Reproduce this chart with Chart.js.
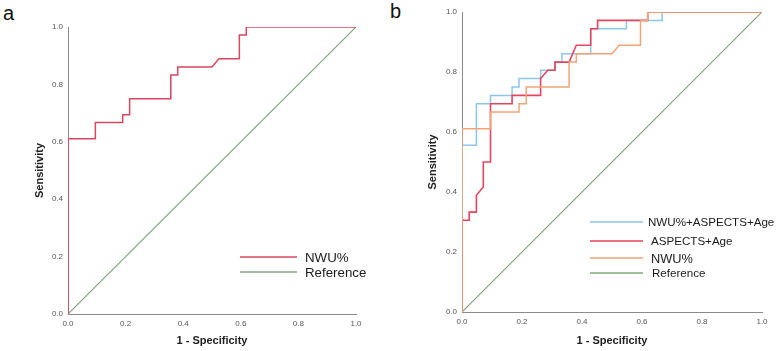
<!DOCTYPE html>
<html>
<head>
<meta charset="utf-8">
<script src="https://cdn.jsdelivr.net/npm/chart.js@4/dist/chart.umd.min.js"></script>
<style>
  html, body { margin: 0; padding: 0; background: #fff; }
  body { width: 776px; height: 351px; position: relative; overflow: hidden; font-family: "Liberation Sans", Arial, sans-serif; }
  .wrap { position: absolute; top: 0; width: 388px; height: 351px; }
  .lbl { position: absolute; font-size: 20px; color: #111; line-height: 1; }
</style>
</head>
<body>
<div class="lbl" style="left:3px; top:3px;">a</div>
<div class="lbl" style="left:390px; top:1px;">b</div>
<div class="wrap" style="left:0px;"><canvas id="cA" width="388" height="351"></canvas></div>
<div class="wrap" style="left:388px;"><canvas id="cB" width="388" height="351"></canvas></div>
<script>
// ---- data ----
const tickValues = [0, 0.2, 0.4, 0.6, 0.8, 1.0];
const xTitle = "1 - Specificity";
const yTitle = "Sensitivity";

// NWU% ROC curve (1 - specificity, sensitivity)
const nwuFpr = [0,0,0.095,0.095,0.19,0.19,0.214,0.214,0.357,0.357,0.381,0.381,0.5,0.524,0.595,0.595,0.619,0.619,1];
const nwuTpr = [0,0.611,0.611,0.667,0.667,0.694,0.694,0.75,0.75,0.833,0.833,0.861,0.861,0.889,0.889,0.972,0.972,1,1];

// NWU%+ASPECTS+Age ROC curve
const comboFpr = [0,0,0.048,0.048,0.095,0.095,0.167,0.167,0.19,0.19,0.262,0.262,0.31,0.31,0.333,0.333,0.429,0.429,0.548,0.548,0.667,0.667,1];
const comboTpr = [0,0.556,0.556,0.694,0.694,0.722,0.722,0.75,0.75,0.778,0.778,0.806,0.806,0.833,0.833,0.861,0.861,0.944,0.944,0.972,0.972,1,1];

// ASPECTS+Age ROC curve
const aspFpr = [0,0,0.024,0.024,0.048,0.048,0.071,0.071,0.095,0.095,0.167,0.167,0.262,0.262,0.286,0.31,0.31,0.357,0.381,0.429,0.429,0.452,0.452,0.619,0.619,1];
const aspTpr = [0,0.306,0.306,0.333,0.333,0.389,0.417,0.5,0.5,0.694,0.694,0.722,0.722,0.778,0.806,0.806,0.833,0.833,0.889,0.889,0.944,0.944,0.972,0.972,1,1];

// Reference diagonal
const refX = [0, 1];
const refY = [0, 1];

const labelsA = ["NWU%", "Reference"];
const labelsB = ["NWU%+ASPECTS+Age", "ASPECTS+Age", "NWU%", "Reference"];

// ---- helpers ----
function pts(xs, ys) { return xs.map((x, i) => ({ x: x, y: ys[i] })); }

function ds(label, xs, ys, color, width, order) {
  return {
    label: label,
    data: pts(xs, ys),
    borderColor: color,
    backgroundColor: color,
    borderWidth: width,
    showLine: true,
    pointRadius: 0,
    pointHoverRadius: 0,
    tension: 0,
    fill: false,
    order: order
  };
}

const legendPlugin = {
  id: 'customLegend',
  afterDraw(chart, args, opts) {
    const ctx = chart.ctx;
    ctx.save();
    opts.items.forEach((it) => {
      const d = chart.data.datasets[it.index];
      ctx.strokeStyle = d.borderColor;
      ctx.lineWidth = 1.5;
      ctx.beginPath();
      ctx.moveTo(opts.x1, it.y);
      ctx.lineTo(opts.x2, it.y);
      ctx.stroke();
      ctx.fillStyle = '#1a1a1a';
      ctx.font = it.size + 'px "Liberation Sans", Arial, sans-serif';
      ctx.textBaseline = 'middle';
      ctx.textAlign = 'left';
      ctx.fillText(d.label, it.tx, it.y + 1);
    });
    ctx.restore();
  }
};

function scales(yWidth, xHeight) {
  const tickFont = { family: '"Liberation Sans", Arial, sans-serif', size: 8 };
  const titleFont = { family: '"Liberation Sans", Arial, sans-serif', size: 11, weight: 'bold' };
  return {
    x: {
      type: 'linear', min: 0, max: 1,
      afterBuildTicks: (s) => { s.ticks = tickValues.map(v => ({ value: v })); },
      afterFit: (s) => { s.height = xHeight; },
      grid: { display: false, drawTicks: false },
      border: { display: true, color: '#8a8a8a', width: 1 },
      ticks: { font: tickFont, color: '#555', padding: 5, callback: (v) => Number(v).toFixed(1), maxRotation: 0 },
      title: { display: true, text: xTitle, font: titleFont, color: '#222', padding: { top: 0, bottom: 3 } }
    },
    y: {
      type: 'linear', min: 0, max: 1,
      afterBuildTicks: (s) => { s.ticks = tickValues.map(v => ({ value: v })); },
      afterFit: (s) => { s.width = yWidth; },
      grid: { display: false, drawTicks: false },
      border: { display: true, color: '#8a8a8a', width: 1 },
      ticks: { font: tickFont, color: '#555', padding: 5, callback: (v) => Number(v).toFixed(1) },
      title: { display: true, text: yTitle, font: titleFont, color: '#222', padding: { top: 3, bottom: 0 } }
    }
  };
}

Chart.defaults.animation = false;

new Chart(document.getElementById('cA'), {
  type: 'scatter',
  data: {
    datasets: [
      ds(labelsA[0], nwuFpr, nwuTpr, '#d9475e', 1.5, 0),
      ds(labelsA[1], refX, refY, '#7fa67c', 1.2, 1)
    ]
  },
  options: {
    responsive: false,
    animation: false,
    events: [],
    layout: { padding: { left: 30, top: 27, right: 32, bottom: 0 } },
    plugins: {
      legend: { display: false },
      tooltip: { enabled: false },
      customLegend: {
        x1: 240, x2: 297,
        items: [
          { index: 0, y: 257, tx: 305, size: 13.3 },
          { index: 1, y: 272, tx: 305, size: 13.3 }
        ]
      }
    },
    scales: scales(38, 37)
  },
  plugins: [legendPlugin]
});

new Chart(document.getElementById('cB'), {
  type: 'scatter',
  data: {
    datasets: [
      ds(labelsB[0], comboFpr, comboTpr, '#8fc5ea', 1.5, 2),
      ds(labelsB[1], aspFpr, aspTpr, '#e5455e', 1.6, 1),
      ds(labelsB[2], nwuFpr, nwuTpr, '#f2a475', 1.5, 0),
      ds(labelsB[3], refX, refY, '#7fa67c', 1.2, 3)
    ]
  },
  options: {
    responsive: false,
    animation: false,
    events: [],
    layout: { padding: { left: 35, top: 12, right: 14, bottom: 0 } },
    plugins: {
      legend: { display: false },
      tooltip: { enabled: false },
      customLegend: {
        x1: 202, x2: 255,
        items: [
          { index: 0, y: 222, tx: 260, size: 11.6 },
          { index: 1, y: 241, tx: 263, size: 11.6 },
          { index: 2, y: 258, tx: 263, size: 12.8 },
          { index: 3, y: 273, tx: 264, size: 11.6 }
        ]
      }
    },
    scales: scales(39, 39)
  },
  plugins: [legendPlugin]
});
</script>
</body>
</html>
